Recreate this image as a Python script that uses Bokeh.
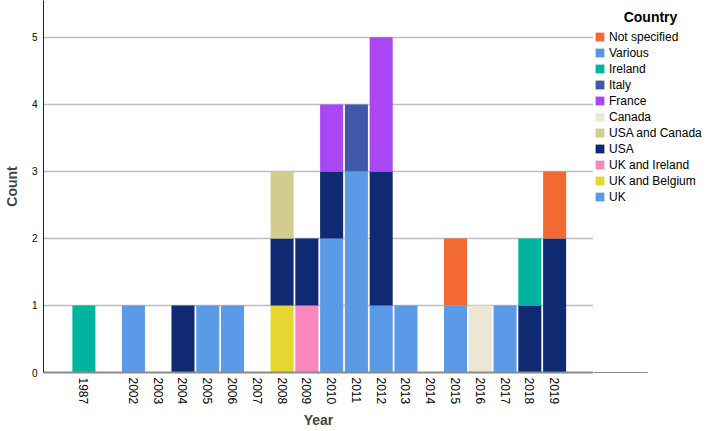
import math
from bokeh.plotting import figure
from bokeh.layouts import row
from bokeh.models import (ColumnDataSource, Range1d, FixedTicker, Legend, LegendItem, Label)
from bokeh.embed import file_html
from bokeh.resources import INLINE

# ---- data ----
years = ["1987", "2002", "2003", "2004", "2005", "2006", "2007", "2008", "2009",
         "2010", "2011", "2012", "2013", "2014", "2015", "2016", "2017", "2018", "2019"]

# stack order, bottom to top
countries = ["UK", "UK and Belgium", "UK and Ireland", "USA", "USA and Canada",
             "Canada", "France", "Italy", "Ireland", "Various", "Not specified"]

uk             = [0, 1, 0, 0, 1, 1, 0, 0, 0, 2, 3, 1, 1, 0, 1, 0, 1, 0, 0]
uk_belgium     = [0, 0, 0, 0, 0, 0, 0, 1, 0, 0, 0, 0, 0, 0, 0, 0, 0, 0, 0]
uk_ireland     = [0, 0, 0, 0, 0, 0, 0, 0, 1, 0, 0, 0, 0, 0, 0, 0, 0, 0, 0]
usa            = [0, 0, 0, 1, 0, 0, 0, 1, 1, 1, 0, 2, 0, 0, 0, 0, 0, 1, 2]
usa_canada     = [0, 0, 0, 0, 0, 0, 0, 1, 0, 0, 0, 0, 0, 0, 0, 0, 0, 0, 0]
canada         = [0, 0, 0, 0, 0, 0, 0, 0, 0, 0, 0, 0, 0, 0, 0, 1, 0, 0, 0]
france         = [0, 0, 0, 0, 0, 0, 0, 0, 0, 1, 0, 2, 0, 0, 0, 0, 0, 0, 0]
italy          = [0, 0, 0, 0, 0, 0, 0, 0, 0, 0, 1, 0, 0, 0, 0, 0, 0, 0, 0]
ireland        = [1, 0, 0, 0, 0, 0, 0, 0, 0, 0, 0, 0, 0, 0, 0, 0, 0, 1, 0]
various        = [0, 0, 0, 0, 0, 0, 0, 0, 0, 0, 0, 0, 0, 0, 0, 0, 0, 0, 0]
not_specified  = [0, 0, 0, 0, 0, 0, 0, 0, 0, 0, 0, 0, 0, 0, 1, 0, 0, 0, 1]

series = [uk, uk_belgium, uk_ireland, usa, usa_canada, canada, france, italy,
          ireland, various, not_specified]

colors = ["#5B9AE6", "#E5D630", "#FA86BE", "#0F2A72", "#D3CC8F", "#ECE6D3",
          "#A947F4", "#3F58A8", "#00B4A0", "#5A97E4", "#F26A32"]

y_ticks = [0, 1, 2, 3, 4, 5]

# a blank slot separates 1987 from the 2002+ run
x_pos = [i + (1 if i > 0 else 0) for i in range(len(years))]

data = {"x": x_pos}
for c, vals in zip(countries, series):
    data[c] = vals
source = ColumnDataSource(data)

FONT = "Liberation Sans"

p = figure(width=593, height=431,
           x_range=Range1d(-1.63, 20.57), y_range=Range1d(0, 5.55),
           output_backend="svg", toolbar_location=None,
           min_border_left=38, min_border_right=0, min_border_top=0,
           min_border_bottom=59)

p.vbar_stack(countries, x="x", width=0.93, source=source,
             color=colors, line_color=None)

# axes
p.xaxis.ticker = FixedTicker(ticks=x_pos)
p.xaxis.major_label_overrides = {xp: y for xp, y in zip(x_pos, years)}
p.xaxis.major_label_orientation = -math.pi / 2
p.xaxis.major_label_text_font = FONT
p.xaxis.major_label_text_font_size = "12px"
p.xaxis.major_label_text_color = "#000000"
p.xaxis.major_label_standoff = 5
p.xaxis.axis_line_color = "#8A8A8A"
p.xaxis.axis_line_width = 2
p.xaxis.major_tick_out = 0
p.xaxis.major_tick_in = 0
p.xaxis.minor_tick_line_color = None
p.xaxis.axis_label = "Year"
p.xaxis.axis_label_text_font = FONT
p.xaxis.axis_label_text_font_style = "bold"
p.xaxis.axis_label_text_font_size = "14px"
p.xaxis.axis_label_standoff = 5

p.yaxis.ticker = FixedTicker(ticks=y_ticks)
p.yaxis.major_label_text_font = FONT
p.yaxis.major_label_text_font_size = "10px"
p.yaxis.major_label_text_color = "#000000"
p.yaxis.major_label_standoff = 6
p.yaxis.axis_line_color = "#222222"
p.yaxis.axis_line_width = 1
p.yaxis.major_tick_out = 0
p.yaxis.major_tick_in = 0
p.yaxis.minor_tick_line_color = None
p.yaxis.axis_label = "Count"
p.yaxis.axis_label_text_font = FONT
p.yaxis.axis_label_text_font_style = "bold"
p.yaxis.axis_label_text_font_size = "14px"
p.yaxis.axis_label_standoff = 9

p.xgrid.visible = False
p.ygrid.ticker = FixedTicker(ticks=y_ticks)
p.ygrid.grid_line_color = "#BDBDBD"
p.ygrid.grid_line_width = 1.5
p.outline_line_color = None

# ---- legend panel: a bare figure holding the legend ----
q = figure(width=116, height=431, x_range=Range1d(0, 1), y_range=Range1d(100, 101),
           output_backend="svg", toolbar_location=None,
           min_border_left=0, min_border_right=0, min_border_top=0,
           min_border_bottom=59)
q.axis.visible = False
q.grid.visible = False
q.outline_line_color = None
leg_renderers = q.vbar_stack(countries, x="x", width=0.93, source=source,
                             color=colors, line_color=None)

items = [LegendItem(label=c, renderers=[r])
         for c, r in zip(countries, leg_renderers)][::-1]
legend = Legend(items=items, location=(1, 168.3), orientation="vertical",
                margin=0, padding=0, spacing=2, glyph_height=11, glyph_width=11,
                label_height=14, label_standoff=4,
                label_text_font=FONT, label_text_font_size="12px",
                label_text_color="#000000",
                border_line_color=None, background_fill_alpha=0)
q.add_layout(legend, "center")
q.add_layout(Label(x=57, y=356, x_units="screen", y_units="screen",
                   text="Country", text_font=FONT, text_font_style="bold",
                   text_font_size="14px", text_align="center",
                   text_baseline="middle", text_color="#000000"))

layout = row(p, q, spacing=0)

open("out.html", "w").write(file_html(layout, INLINE))
